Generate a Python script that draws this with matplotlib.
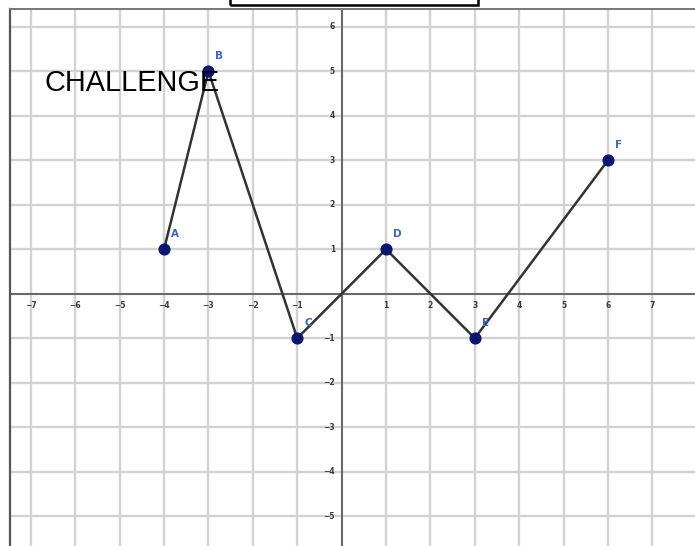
import matplotlib.pyplot as plt
from matplotlib.patches import Rectangle

# points of the polyline
labels = ['A', 'B', 'C', 'D', 'E', 'F']
xs = [-4, -3, -1, 1, 3, 6]
ys = [1, 5, -1, 1, -1, 3]

x_ticks = [-7, -6, -5, -4, -3, -2, -1, 1, 2, 3, 4, 5, 6, 7, 8]
y_ticks = [-5, -4, -3, -2, -1, 1, 2, 3, 4, 5, 6]

W, H = 695, 546
fig = plt.figure(figsize=(W / 100, H / 100), dpi=100)
ax = fig.add_axes([10 / W, 0, 1 - 10 / W, (H - 9) / H])

ax.set_xlim(-7.47, 7.96)
ax.set_ylim(-5.67, 6.40)

# grid
for gx in range(-7, 9):
    ax.axvline(gx, color='#d2d2d2', lw=1.7, zorder=0)
for gy in range(-5, 7):
    ax.axhline(gy, color='#d2d2d2', lw=1.7, zorder=0)

# axes lines
ax.axhline(0, color='#555555', lw=1.2, zorder=1)
ax.axvline(0, color='#555555', lw=1.2, zorder=1)

# tick labels
for t in x_ticks:
    ax.text(t, -0.17, '\u2212%d' % -t if t < 0 else str(t), ha='center', va='top',
            fontsize=5.5, color='#3a3a3a', fontweight='bold', zorder=2)
for t in y_ticks:
    ax.text(-0.15, t, '\u2212%d' % -t if t < 0 else str(t), ha='right', va='center',
            fontsize=5.5, color='#3a3a3a', fontweight='bold', zorder=2)

# polyline and points
ax.plot(xs, ys, color='#333333', lw=1.8, zorder=3)
ax.scatter(xs, ys, s=60, color='#0b1670', zorder=4)
for lab, x, y in zip(labels, xs, ys):
    ax.annotate(lab, (x, y), xytext=(5, 9), textcoords='offset points',
                fontsize=7.5, color='#3a64c8', fontweight='bold', zorder=5)

ax.set_xticks([])
ax.set_yticks([])
for side in ['right', 'bottom']:
    ax.spines[side].set_visible(False)
ax.spines['left'].set_color('#555555')
ax.spines['left'].set_linewidth(1.6)
ax.spines['top'].set_color('#777777')
ax.spines['top'].set_linewidth(1.4)

fig.text(45 / W, 1 - 83 / H, 'CHALLENGE', fontsize=20.8, family='Liberation Sans',
         color='black', ha='left', va='center', zorder=10)

# cut-off box at the top
fig.patches.append(Rectangle((230 / W, 1 - 5 / H), 248 / W, 10 / H,
                             transform=fig.transFigure, fill=False,
                             edgecolor='black', lw=1.8))

fig.savefig('out.png', dpi=100)
